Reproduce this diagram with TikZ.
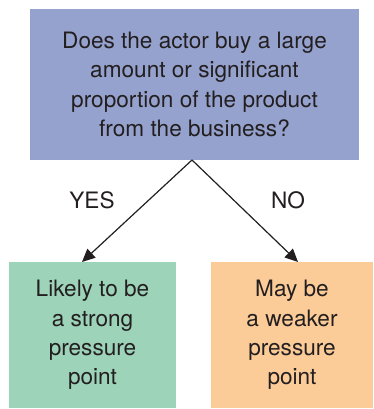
\documentclass[tikz,border=0pt]{standalone}
\usepackage{fontspec}
\setmainfont{TeX Gyre Heros}
\usetikzlibrary{arrows.meta}
\definecolor{topc}{RGB}{150,162,206}
\definecolor{greenc}{RGB}{157,211,185}
\definecolor{orangec}{RGB}{251,203,152}
\definecolor{txt}{RGB}{35,31,32}
\tikzset{
  box/.style={rectangle, inner sep=0pt, align=center, text=txt,
    font=\fontsize{22.6}{29.3}\selectfont},
  conn/.style={line width=1.2pt, draw=txt, -{Triangle[length=13pt,width=12pt]}},
  lbl/.style={text=txt, font=\fontsize{22.6}{26}\selectfont}
}
\begin{document}
\begin{tikzpicture}[x=1pt,y=1pt]
\useasboundingbox (0,0) rectangle (373,409);
\node[box, fill=topc, minimum width=329pt, minimum height=151pt] (top) at (194.5,324.5)
  {Does the actor buy a large\\amount or significant\\proportion of the product\\from the business?};
\node[box, fill=greenc, minimum width=167pt, minimum height=146pt] (left) at (92.5,74)
  {Likely to be\\a strong\\pressure\\point};
\node[box, fill=orangec, minimum width=162pt, minimum height=146pt] (right) at (292,74)
  {May be\\a weaker\\pressure\\point};
\coordinate (apex) at (192,249);
\coordinate (lt) at (82,147);
\coordinate (rt) at (298,147);
\draw[conn] (apex) -- (lt);
\draw[conn] (apex) -- (rt);
\node[lbl] (yes) at (92,209) {YES};
\node[lbl] (no) at (288,209) {NO};
\end{tikzpicture}
\end{document}
